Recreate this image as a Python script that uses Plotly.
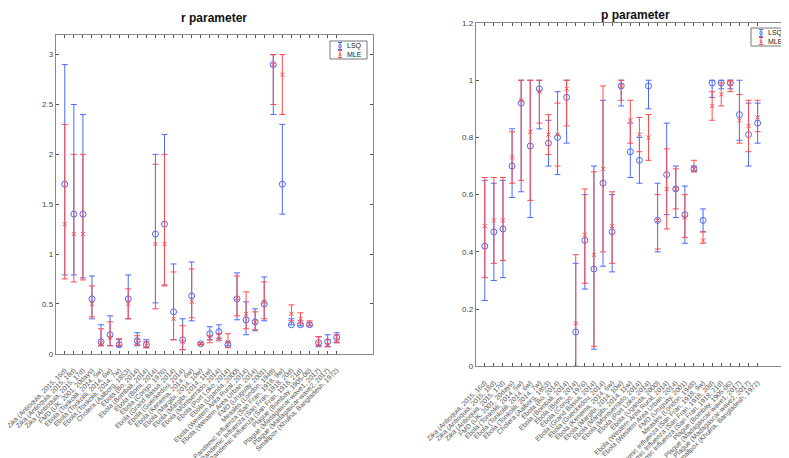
import numpy as np
import plotly.graph_objects as go

# outbreak names (x tick labels)
labels = [
    "Zika (Antioquia, 2015, 16d)", "Zika (Antioquia, 2015, 18d)",
    "Zika (Antioquia, 2015, 17d)", "FMD (UK, 2001, 20days)",
    "Ebola (Tonkolili, 2014, 5w)", "Ebola (Tonkolili, 2014, 6w)",
    "Ebola (Tonkolili, 2014, 7w)", "Cholera (Aalborg, 1853)",
    "Ebola (Bo, 2014)", "Ebola (Bombali, 2014)", "Ebola (Bomi, 2014)",
    "Ebola (Congo, 1976)", "Ebola (Grand Bassa, 2014)",
    "Ebola (Gueckedou, 2014)", "Ebola (Kenema, 2014, 6w)",
    "Ebola (Margibi, 2014, 10w)", "Ebola (Margibi, 2014, 11w)",
    "Ebola (Montserrado, 2014)", "Ebola (Port Loko, 2014)",
    "Ebola (Uganda, 2000)", "Ebola (Western Area Rural, 2014)",
    "Ebola (Western Area Urban, 2014)", "FMD (Uruguay, 2001)",
    "Measles (London, 1948)", "Pandemic Influenza (San Fran, 1918, 9w)",
    "Pandemic Influenza (San Fran, 1918, 20d)",
    "Pandemic Influenza (San Fran, 1918, 21d)", "Plague (Bombay, 1905-06)",
    "Plague (Madagascar-wave1, 2017)", "Plague (Madagascar-wave2, 2017)",
    "Smallpox (Khulna, Bangladesh, 1972)",
]
idx = list(range(1, len(labels) + 1))

# r parameter
r_lsq = [1.7, 1.4, 1.4, 0.55, 0.12, 0.19, 0.09, 0.55, 0.13, 0.09, 1.2, 1.3, 0.42, 0.14, 0.58, 0.10,
         0.20, 0.22, 0.09, 0.55, 0.34, 0.32, 0.50, 2.9, 1.7, 0.29, 0.29, 0.29, 0.11, 0.12, 0.16]
r_lsq_lo = [0.79, 0.79, 0.76, 0.35, 0.08, 0.08, 0.07, 0.35, 0.08, 0.06, 0.51, 0.69, 0.14, 0.04, 0.33, 0.09,
            0.14, 0.15, 0.08, 0.34, 0.19, 0.23, 0.33, 2.4, 1.4, 0.29, 0.28, 0.28, 0.07, 0.07, 0.11]
r_lsq_hi = [2.9, 2.5, 2.4, 0.78, 0.29, 0.38, 0.14, 0.79, 0.21, 0.14, 2.0, 2.2, 0.90, 0.35, 0.92, 0.11,
            0.27, 0.29, 0.12, 0.81, 0.52, 0.45, 0.77, 3.0, 2.3, 0.35, 0.33, 0.31, 0.17, 0.19, 0.21]
r_mle = [1.3, 1.2, 1.2, 0.50, 0.11, 0.16, 0.10, 0.50, 0.13, 0.08, 1.1, 1.1, 0.35, 0.12, 0.52, 0.10,
         0.15, 0.15, 0.12, 0.56, 0.40, 0.32, 0.52, 2.9, 2.8, 0.40, 0.35, 0.30, 0.10, 0.09, 0.14]
r_mle_lo = [0.75, 0.72, 0.74, 0.37, 0.08, 0.08, 0.08, 0.35, 0.09, 0.06, 0.45, 0.68, 0.14, 0.04, 0.36, 0.09,
            0.11, 0.13, 0.06, 0.38, 0.25, 0.24, 0.35, 2.5, 2.4, 0.33, 0.30, 0.28, 0.08, 0.07, 0.11]
r_mle_hi = [2.3, 2.0, 2.0, 0.68, 0.25, 0.32, 0.15, 0.65, 0.18, 0.12, 1.9, 2.0, 0.82, 0.28, 0.85, 0.11,
            0.18, 0.20, 0.20, 0.78, 0.62, 0.42, 0.72, 3.0, 3.0, 0.49, 0.41, 0.33, 0.17, 0.14, 0.19]

# p parameter
p_lsq = [0.42, 0.47, 0.48, 0.70, 0.92, 0.77, 0.97, 0.78, 0.80, 0.94, 0.12, 0.44, 0.34, 0.64, 0.47, 0.98,
         0.75, 0.72, 0.98, 0.51, 0.67, 0.62, 0.53, 0.69, 0.51, 0.99, 0.99, 0.99, 0.88, 0.81, 0.85]
p_lsq_lo = [0.23, 0.30, 0.31, 0.59, 0.61, 0.52, 0.83, 0.70, 0.67, 0.78, 0.0, 0.27, 0.06, 0.35, 0.33, 0.91,
            0.66, 0.64, 0.90, 0.40, 0.53, 0.52, 0.43, 0.68, 0.47, 0.94, 0.97, 0.97, 0.79, 0.70, 0.78]
p_lsq_hi = [0.65, 0.64, 0.65, 0.83, 1.0, 1.0, 1.0, 0.86, 0.96, 1.0, 0.36, 0.60, 0.70, 0.93, 0.60, 1.0,
            0.85, 0.80, 1.0, 0.64, 0.85, 0.70, 0.63, 0.70, 0.55, 1.0, 1.0, 1.0, 1.0, 0.92, 0.92]
p_mle = [0.49, 0.51, 0.51, 0.73, 0.93, 0.82, 0.96, 0.81, 0.81, 0.97, 0.15, 0.46, 0.39, 0.69, 0.49, 0.98,
         0.86, 0.81, 0.80, 0.51, 0.62, 0.62, 0.52, 0.69, 0.44, 0.91, 0.95, 0.99, 0.86, 0.84, 0.87]
p_mle_lo = [0.31, 0.36, 0.37, 0.64, 0.65, 0.58, 0.85, 0.74, 0.70, 0.84, 0.0, 0.29, 0.07, 0.40, 0.36, 0.93,
            0.78, 0.75, 0.72, 0.41, 0.48, 0.55, 0.45, 0.68, 0.43, 0.86, 0.91, 0.96, 0.78, 0.75, 0.82]
p_mle_hi = [0.66, 0.66, 0.66, 0.82, 1.0, 1.0, 1.0, 0.88, 0.92, 1.0, 0.39, 0.62, 0.68, 0.98, 0.61, 1.0,
            0.93, 0.87, 0.88, 0.60, 0.76, 0.69, 0.60, 0.72, 0.47, 0.96, 0.99, 1.0, 0.95, 0.93, 0.93]

BLUE = "rgb(75,105,255)"
RED = "rgb(255,75,75)"
W, H = 789, 458


def err_trace(val, lo, hi, name, color, symbol, size, xa, ya):
    val = np.array(val)
    return go.Scatter(
        x=idx, y=val, mode="markers", name=name, showlegend=False,
        marker=dict(symbol=symbol, size=size, color=color,
                    line=dict(color=color, width=1)),
        error_y=dict(type="data", symmetric=False,
                     array=np.array(hi) - val, arrayminus=val - np.array(lo),
                     color=color, thickness=1, width=3),
        xaxis=xa, yaxis=ya,
    )


def px_x(v):
    return v / W


def px_y(v):
    return 1 - v / H


def legend_box(x0, y0):
    # small matlab style legend box drawn in paper coords
    shapes, annos = [], []
    shapes.append(dict(type="rect", xref="paper", yref="paper",
                       x0=px_x(x0), x1=px_x(x0 + 37), y0=px_y(y0), y1=px_y(y0 + 18),
                       line=dict(color="#777", width=1), fillcolor="white", layer="above"))
    for k, (name, color, glyph) in enumerate([("LSQ", BLUE, "o"), ("MLE", RED, "×")]):
        cy = y0 + 5 + k * 8
        cx = x0 + 10
        shapes.append(dict(type="line", xref="paper", yref="paper",
                           x0=px_x(cx), x1=px_x(cx), y0=px_y(cy - 3.5), y1=px_y(cy + 3.5),
                           line=dict(color=color, width=1), layer="above"))
        for cap in (cy - 3.5, cy + 3.5):
            shapes.append(dict(type="line", xref="paper", yref="paper",
                               x0=px_x(cx - 2), x1=px_x(cx + 2), y0=px_y(cap), y1=px_y(cap),
                               line=dict(color=color, width=1), layer="above"))
        annos.append(dict(text=glyph, x=px_x(cx), y=px_y(cy), xref="paper", yref="paper",
                          showarrow=False, font=dict(size=7, color=color),
                          xanchor="center", yanchor="middle"))
        annos.append(dict(text=name, x=px_x(x0 + 34), y=px_y(cy), xref="paper", yref="paper",
                          showarrow=False, font=dict(size=7, color="#222"),
                          xanchor="right", yanchor="middle"))
    return shapes, annos


fig = go.Figure()
fig.add_trace(err_trace(r_lsq, r_lsq_lo, r_lsq_hi, "LSQ", BLUE, "circle-open", 6, "x", "y"))
fig.add_trace(err_trace(r_mle, r_mle_lo, r_mle_hi, "MLE", RED, "x-thin-open", 4, "x", "y"))
fig.add_trace(err_trace(p_lsq, p_lsq_lo, p_lsq_hi, "LSQ", BLUE, "circle-open", 6, "x2", "y2"))
fig.add_trace(err_trace(p_mle, p_mle_lo, p_mle_hi, "MLE", RED, "x-thin-open", 4, "x2", "y2"))

xstyle = dict(range=[0, 35], tickvals=idx, ticktext=labels, tickangle=-45,
              ticks="inside", ticklen=3, tickcolor="#555", showline=True,
              linecolor="#888", mirror="ticks", showgrid=False, zeroline=False,
              tickfont=dict(size=6.8, color="#555"), automargin=False,
              ticklabeloverflow="allow", ticklabelstandoff=9)
ystyle = dict(ticks="inside", ticklen=3, tickcolor="#555", showline=True,
              linecolor="#888", mirror="ticks", showgrid=False, zeroline=False,
              tickfont=dict(size=8, color="#444"), automargin=False)

s1, a1 = legend_box(322, 33)
s2, a2 = legend_box(743, 20)

fig.update_layout(
    width=W, height=H,
    margin=dict(l=0, r=0, t=0, b=0),
    paper_bgcolor="white", plot_bgcolor="white",
    font=dict(family="Liberation Sans", color="#333"),
    xaxis=dict(domain=[47.7 / W, 365 / W], anchor="y", **xstyle),
    yaxis=dict(domain=[1 - 345.7 / H, 1 - 26.7 / H], anchor="x", range=[0, 3.2],
               tickvals=[0, 0.5, 1, 1.5, 2, 2.5, 3], ticktext=["0", "0.5", "1", "1.5", "2", "2.5", "3"],
               **ystyle),
    xaxis2=dict(domain=[467.7 / W, 786 / W], anchor="y2", **xstyle),
    yaxis2=dict(domain=[1 - 358.3 / H, 1 - 15 / H], anchor="x2", range=[0, 1.2],
                tickvals=[0, 0.2, 0.4, 0.6, 0.8, 1, 1.2],
                ticktext=["0", "0.2", "0.4", "0.6", "0.8", "1", "1.2"], **ystyle),
    shapes=s1 + s2,
    annotations=[
        dict(text="<b>r parameter</b>", x=206 / W, y=1 - 10 / H, xref="paper", yref="paper",
             showarrow=False, font=dict(size=12, color="#111"), xanchor="center", yanchor="middle"),
        dict(text="<b>p parameter</b>", x=627 / W, y=1 - 7 / H, xref="paper", yref="paper",
             showarrow=False, font=dict(size=12, color="#111"), xanchor="center", yanchor="middle"),
    ] + a1 + a2,
)

fig.write_html("out.html")
